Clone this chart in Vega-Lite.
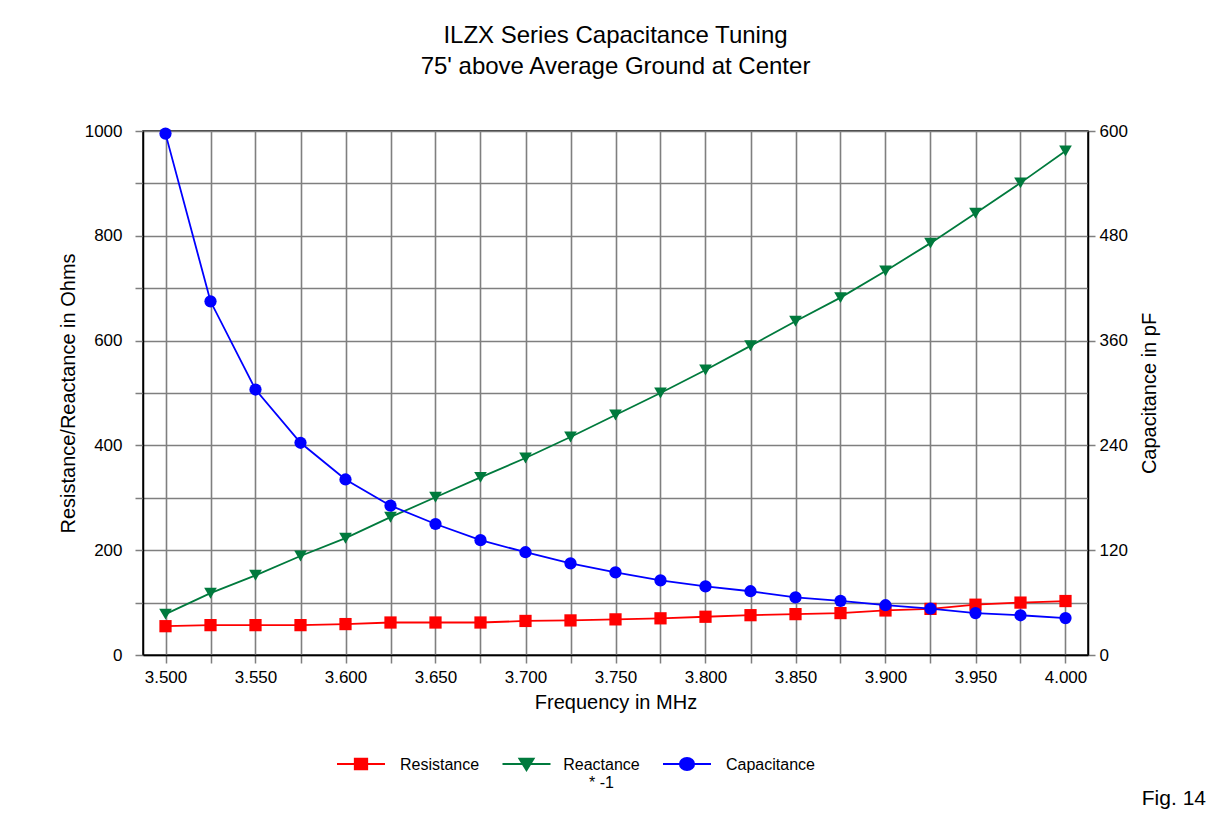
{
  "$schema": "https://vega.github.io/schema/vega-lite/v6.json",
  "width": 945,
  "height": 524,
  "autosize": {"type": "none"},
  "padding": {"left": 143, "top": 131, "right": 133, "bottom": 163},
  "background": "white",
  "config": {
    "font": "Liberation Sans",
    "view": {"stroke": "black", "strokeWidth": 1.5},
    "axis": {
      "labelFont": "Liberation Sans",
      "labelFontSize": 17,
      "labelColor": "black",
      "titleFont": "Liberation Sans",
      "titleFontSize": 20,
      "titleFontWeight": "normal",
      "titleColor": "black",
      "domainColor": "black",
      "domainWidth": 1.5,
      "tickColor": "#7f7f7f",
      "tickWidth": 1.5,
      "tickSize": 8,
      "gridColor": "#7f7f7f",
      "gridWidth": 1.6,
      "gridOpacity": 1
    }
  },
  "title": {
    "text": ["ILZX Series Capacitance Tuning", "75' above Average Ground at Center"],
    "font": "Liberation Sans",
    "fontSize": 24,
    "fontWeight": "normal",
    "color": "black",
    "lineHeight": 31,
    "offset": 24,
    "baseline": "alphabetic",
    "anchor": "middle"
  },
  "datasets": {
    "main": [
      {"f": 3.500, "series": "Resistance", "value": 55},
      {"f": 3.525, "series": "Resistance", "value": 57},
      {"f": 3.550, "series": "Resistance", "value": 57},
      {"f": 3.575, "series": "Resistance", "value": 57},
      {"f": 3.600, "series": "Resistance", "value": 59},
      {"f": 3.625, "series": "Resistance", "value": 62},
      {"f": 3.650, "series": "Resistance", "value": 62},
      {"f": 3.675, "series": "Resistance", "value": 62},
      {"f": 3.700, "series": "Resistance", "value": 65},
      {"f": 3.725, "series": "Resistance", "value": 66},
      {"f": 3.750, "series": "Resistance", "value": 68},
      {"f": 3.775, "series": "Resistance", "value": 70},
      {"f": 3.800, "series": "Resistance", "value": 73},
      {"f": 3.825, "series": "Resistance", "value": 76},
      {"f": 3.850, "series": "Resistance", "value": 78},
      {"f": 3.875, "series": "Resistance", "value": 80},
      {"f": 3.900, "series": "Resistance", "value": 85},
      {"f": 3.925, "series": "Resistance", "value": 88},
      {"f": 3.950, "series": "Resistance", "value": 96},
      {"f": 3.975, "series": "Resistance", "value": 100},
      {"f": 4.000, "series": "Resistance", "value": 103},
      {"f": 3.500, "series": "Reactance", "value": 78},
      {"f": 3.525, "series": "Reactance", "value": 118},
      {"f": 3.550, "series": "Reactance", "value": 152},
      {"f": 3.575, "series": "Reactance", "value": 189},
      {"f": 3.600, "series": "Reactance", "value": 223},
      {"f": 3.625, "series": "Reactance", "value": 263},
      {"f": 3.650, "series": "Reactance", "value": 301},
      {"f": 3.675, "series": "Reactance", "value": 339},
      {"f": 3.700, "series": "Reactance", "value": 376},
      {"f": 3.725, "series": "Reactance", "value": 416},
      {"f": 3.750, "series": "Reactance", "value": 458},
      {"f": 3.775, "series": "Reactance", "value": 500},
      {"f": 3.800, "series": "Reactance", "value": 544},
      {"f": 3.825, "series": "Reactance", "value": 590},
      {"f": 3.850, "series": "Reactance", "value": 637},
      {"f": 3.875, "series": "Reactance", "value": 682},
      {"f": 3.900, "series": "Reactance", "value": 733},
      {"f": 3.925, "series": "Reactance", "value": 786},
      {"f": 3.950, "series": "Reactance", "value": 843},
      {"f": 3.975, "series": "Reactance", "value": 901},
      {"f": 4.000, "series": "Reactance", "value": 962},
      {"f": 3.500, "series": "Capacitance", "value": 597},
      {"f": 3.525, "series": "Capacitance", "value": 405},
      {"f": 3.550, "series": "Capacitance", "value": 304},
      {"f": 3.575, "series": "Capacitance", "value": 243},
      {"f": 3.600, "series": "Capacitance", "value": 201},
      {"f": 3.625, "series": "Capacitance", "value": 171},
      {"f": 3.650, "series": "Capacitance", "value": 150},
      {"f": 3.675, "series": "Capacitance", "value": 131.5},
      {"f": 3.700, "series": "Capacitance", "value": 117.7},
      {"f": 3.725, "series": "Capacitance", "value": 105},
      {"f": 3.750, "series": "Capacitance", "value": 94.6},
      {"f": 3.775, "series": "Capacitance", "value": 85.4},
      {"f": 3.800, "series": "Capacitance", "value": 78.5},
      {"f": 3.825, "series": "Capacitance", "value": 73},
      {"f": 3.850, "series": "Capacitance", "value": 66},
      {"f": 3.875, "series": "Capacitance", "value": 62},
      {"f": 3.900, "series": "Capacitance", "value": 57},
      {"f": 3.925, "series": "Capacitance", "value": 53},
      {"f": 3.950, "series": "Capacitance", "value": 48},
      {"f": 3.975, "series": "Capacitance", "value": 45.5},
      {"f": 4.000, "series": "Capacitance", "value": 42.3}
    ],
    "fig": [{"label": "Fig. 14"}]
  },
  "layer": [
    {
      "layer": [
        {
          "data": {"name": "main"},
          "transform": [{"filter": "datum.series != 'Capacitance'"}],
          "mark": {"type": "line", "strokeWidth": 1.8},
          "encoding": {
            "x": {
              "field": "f", "type": "quantitative",
              "scale": {"domain": [3.4875, 4.0125], "nice": false, "zero": false},
              "axis": {
                "title": "Frequency in MHz",
                "values": [3.5, 3.525, 3.55, 3.575, 3.6, 3.625, 3.65, 3.675, 3.7, 3.725, 3.75, 3.775, 3.8, 3.825, 3.85, 3.875, 3.9, 3.925, 3.95, 3.975, 4.0],
                "labelExpr": "round(datum.value*1000) % 50 == 0 ? format(datum.value, '.3f') : ''",
                "labelPadding": 6,
                "titlePadding": 7,
                "grid": true
              }
            },
            "y": {
              "field": "value", "type": "quantitative",
              "scale": {"domain": [0, 1000], "nice": false},
              "axis": {
                "title": "Resistance/Reactance in Ohms",
                "orient": "left",
                "values": [0, 100, 200, 300, 400, 500, 600, 700, 800, 900, 1000],
                "labelExpr": "round(datum.value) % 200 == 0 ? format(datum.value, 'd') : ''",
                "labelPadding": 13,
                "titlePadding": 6,
                "grid": true
              }
            },
            "color": {
              "field": "series", "type": "nominal",
              "scale": {"domain": ["Resistance", "Reactance", "Capacitance"], "range": ["#ff0000", "#007a3d", "#0000ff"]},
              "legend": {
                "title": null,
                "orient": "none",
                "legendX": 193,
                "legendY": 608,
                "direction": "horizontal",
                "symbolSize": 2304,
                "symbolStrokeWidth": 1.8,
                "labelFont": "Liberation Sans",
                "labelFontSize": 16,
                "labelColor": "black",
                "labelOffset": 14,
                "columnPadding": 18.5,
                "labelBaseline": "top",
                "labelExpr": "datum.label == 'Reactance' ? ['Reactance', '* -1'] : [datum.label, '']",
                "encode": {
                  "symbols": {
                    "update": {
                      "shape": {"signal": "datum.value == 'Resistance' ? 'M-1,0H1M-0.26,-0.22H0.26V0.22H-0.26Z' : datum.value == 'Reactance' ? 'M-1,0H1M-0.3,-0.22H0.3L0,0.26Z' : 'M-1,0H1M0.3,0A0.3,0.25 0 1,1 -0.3,0A0.3,0.25 0 1,1 0.3,0Z'"},
                      "fill": {"signal": "scale('color', datum.value)"},
                      "stroke": {"signal": "scale('color', datum.value)"},
                      "strokeWidth": {"value": 1.8},
                      "size": {"value": 2304},
                      "opacity": {"value": 1}
                    }
                  },
                  "labels": {
                    "update": {
                      "dy": {"value": -7},
                      "align": {"signal": "datum.label == 'Reactance' ? 'center' : 'left'"},
                      "dx": {"signal": "datum.label == 'Reactance' ? 36 : 0"}
                    }
                  }
                }
              }
            }
          }
        },
        {
          "data": {"name": "main"},
          "transform": [{"filter": "datum.series == 'Resistance'"}],
          "mark": {"type": "point", "shape": "square", "filled": true, "size": 150, "opacity": 1, "color": "#ff0000"},
          "encoding": {
            "x": {"field": "f", "type": "quantitative"},
            "y": {"field": "value", "type": "quantitative"}
          }
        },
        {
          "data": {"name": "main"},
          "transform": [{"filter": "datum.series == 'Reactance'"}],
          "mark": {"type": "point", "shape": "triangle-down", "filled": true, "size": 160, "opacity": 1, "color": "#007a3d"},
          "encoding": {
            "x": {"field": "f", "type": "quantitative"},
            "y": {"field": "value", "type": "quantitative"}
          }
        },
        {
          "data": {"name": "fig"},
          "mark": {"type": "text", "align": "right", "baseline": "alphabetic", "dx": 118, "dy": 150, "fontSize": 21, "font": "Liberation Sans", "color": "black"},
          "encoding": {
            "x": {"datum": 4.0125, "type": "quantitative"},
            "y": {"datum": 0, "type": "quantitative"},
            "text": {"field": "label"}
          }
        }
      ]
    },
    {
      "layer": [
        {
          "data": {"name": "main"},
          "transform": [{"filter": "datum.series == 'Capacitance'"}],
          "mark": {"type": "line", "strokeWidth": 1.8},
          "encoding": {
            "x": {"field": "f", "type": "quantitative"},
            "y": {
              "field": "value", "type": "quantitative",
              "scale": {"domain": [0, 600], "nice": false},
              "axis": {
                "title": "Capacitance in pF",
                "orient": "right",
                "values": [0, 120, 240, 360, 480, 600],
                "grid": false,
                "tickSize": 7,
                "labelPadding": 4,
                "titlePadding": 12,
                "titleAngle": -90,
                "titleBaseline": "top"
              }
            },
            "color": {"field": "series", "type": "nominal"}
          }
        },
        {
          "data": {"name": "main"},
          "transform": [{"filter": "datum.series == 'Capacitance'"}],
          "mark": {"type": "point", "shape": "circle", "filled": true, "size": 150, "opacity": 1, "color": "#0000ff"},
          "encoding": {
            "x": {"field": "f", "type": "quantitative"},
            "y": {"field": "value", "type": "quantitative"}
          }
        }
      ]
    }
  ],
  "resolve": {"scale": {"y": "independent"}}
}
